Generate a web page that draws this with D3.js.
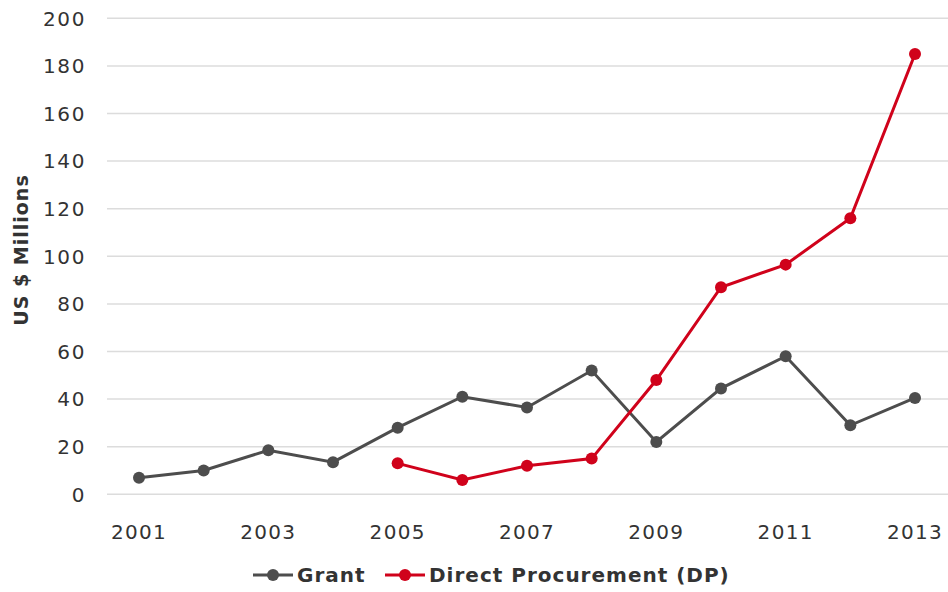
<!DOCTYPE html>
<html>
    <head>
        <meta charset="utf-8">
        <title>Grant vs DP</title>
        <script src="https://d3js.org/d3.v7.min.js"></script>
        <style>
            body { margin: 0; background: #fff; }
            text { font-family: "DejaVu Sans", sans-serif; fill: #333; }
        </style>
    </head>
    <body>
        <svg width="948" height="592"></svg>
        <script>
            var years = [2001, 2002, 2003, 2004, 2005, 2006, 2007, 2008, 2009, 2010, 2011, 2012, 2013];
            var grant = [7, 10, 18.5, 13.5, 28, 41, 36.5, 52, 22, 44.5, 58, 29, 40.5];
            var dp = [null, null, null, null, 13, 6, 12, 15, 48, 87, 96.5, 116, 185];
            var yTicks = [0, 20, 40, 60, 80, 100, 120, 140, 160, 180, 200];
            var xTicks = [2001, 2003, 2005, 2007, 2009, 2011, 2013];

            var svg = d3.select("svg");

            var x = d3.scaleLinear().domain([2001, 2013]).range([139, 915]);
            var y = d3.scaleLinear().domain([0, 200]).range([494.3, 18.3]);

            // gridlines
            svg.append("g").selectAll("line")
                .data(yTicks)
                .enter().append("line")
                .attr("x1", 107).attr("x2", 948)
                .attr("y1", function(d) { return y(d); })
                .attr("y2", function(d) { return y(d); })
                .attr("stroke", "#dcdcdc")
                .attr("stroke-width", 1.5);

            // y labels
            svg.append("g").selectAll("text")
                .data(yTicks)
                .enter().append("text")
                .attr("x", 86)
                .attr("y", function(d) { return y(d); })
                .attr("dy", "0.36em")
                .attr("text-anchor", "end")
                .attr("font-size", "20px")
                .attr("letter-spacing", "1.6px")
                .text(function(d) { return d; });

            // x labels
            svg.append("g").selectAll("text")
                .data(xTicks)
                .enter().append("text")
                .attr("x", function(d) { return x(d); })
                .attr("y", 532)
                .attr("dy", "0.36em")
                .attr("text-anchor", "middle")
                .attr("font-size", "20px")
                .attr("letter-spacing", "1.3px")
                .text(function(d) { return d; });

            svg.append("text")
                .attr("transform", "translate(28,250) rotate(-90)")
                .attr("text-anchor", "middle")
                .attr("font-size", "19px")
                .attr("font-weight", "bold")
                .attr("letter-spacing", "1px")
                .attr("fill", "#222")
                .text("US $ Millions");

            var series = [
                { name: "Grant", values: grant, color: "#4d4d4d" },
                { name: "Direct Procurement (DP)", values: dp, color: "#d0021b" }
            ];

            var line = d3.line()
                .defined(function(d) { return d[1] != null; })
                .x(function(d) { return x(d[0]); })
                .y(function(d) { return y(d[1]); });

            series.forEach(function(s) {
                var pts = years.map(function(yr, i) { return [yr, s.values[i]]; });
                svg.append("path")
                    .datum(pts)
                    .attr("fill", "none")
                    .attr("stroke", s.color)
                    .attr("stroke-width", 3)
                    .attr("d", line);
                svg.append("g").selectAll("circle")
                    .data(pts.filter(function(d) { return d[1] != null; }))
                    .enter().append("circle")
                    .attr("cx", function(d) { return x(d[0]); })
                    .attr("cy", function(d) { return y(d[1]); })
                    .attr("r", 6)
                    .attr("fill", s.color);
            });

            // legend
            var legX = [253, 385];
            series.forEach(function(s, i) {
                var lg = svg.append("g").attr("transform", "translate(" + legX[i] + ",575)");
                lg.append("line").attr("x1", 0).attr("x2", 40)
                    .attr("stroke", s.color).attr("stroke-width", 3);
                lg.append("circle").attr("cx", 20).attr("r", 6).attr("fill", s.color);
                lg.append("text").attr("x", 44).attr("dy", "0.36em")
                    .attr("font-size", "20px").attr("font-weight", "bold")
                    .attr("letter-spacing", "1px")
                    .attr("fill", "#222")
                    .text(s.name);
            });
        </script>
    </body>
</html>
